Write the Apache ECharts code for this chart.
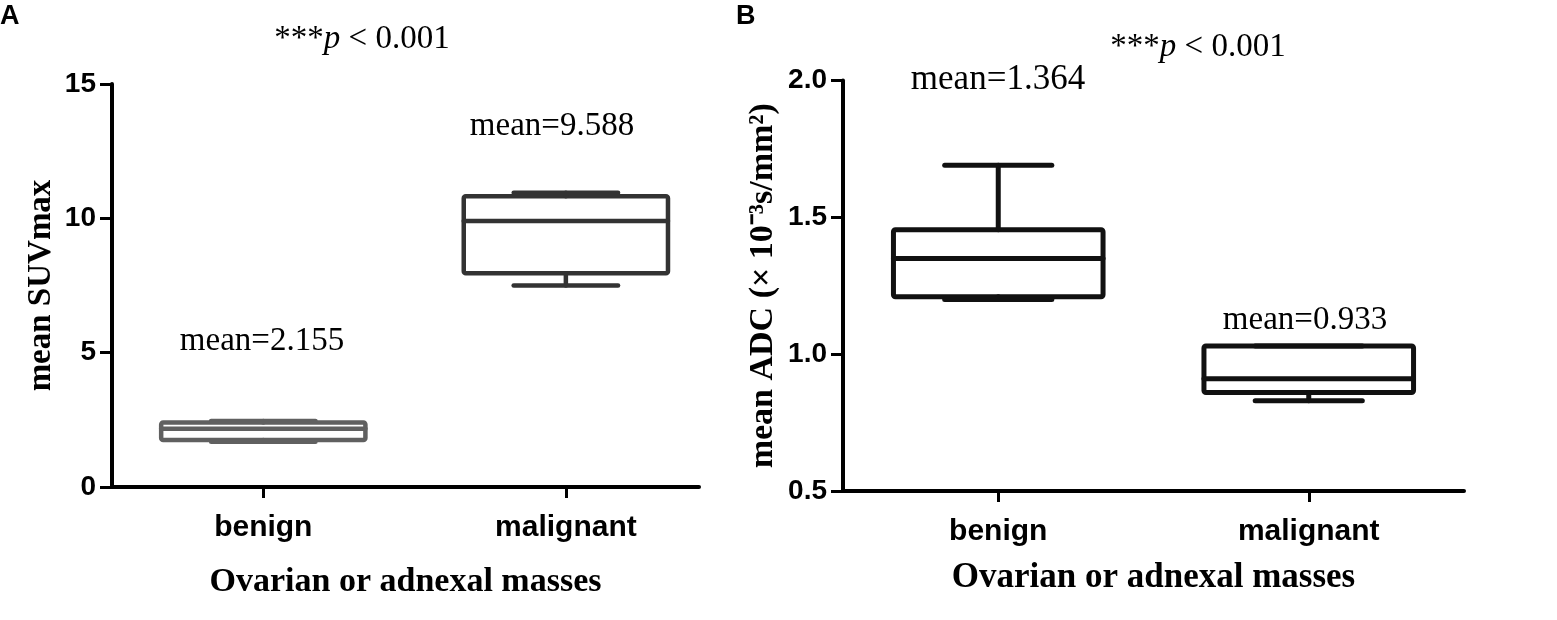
<!DOCTYPE html>
<html>
<head>
<meta charset="utf-8">
<script src="https://cdn.jsdelivr.net/npm/echarts@6/dist/echarts.min.js"></script>
<style>
html,body{margin:0;padding:0;background:#fff;}
#chart{width:1557px;height:620px;}
</style>
</head>
<body>
<div id="chart"></div>
<script>
// ---- data ----
const categories = ['benign', 'malignant'];
// [min, Q1, median, Q3, max]
const suvBenign = [1.68, 1.75, 2.17, 2.40, 2.46];
const suvMalignant = [7.50, 7.96, 9.90, 10.82, 10.95];
const adcBenign = [1.20, 1.21, 1.35, 1.455, 1.69];
const adcMalignant = [0.83, 0.86, 0.91, 1.03, 1.03];
const suvMeans = [2.155, 9.588];
const adcMeans = [1.364, 0.933];
const suvTicks = [0, 5, 10, 15];
const adcTicks = [0.5, 1.0, 1.5, 2.0];

const SERIF = '"Liberation Serif", "Times New Roman", serif';
const SANS = '"Liberation Sans", Arial, sans-serif';

function boxRenderer(color, lw) {
  return function (params, api) {
    const x = api.value(0);
    const v = [api.value(1), api.value(2), api.value(3), api.value(4), api.value(5)];
    const unit = api.size([1, 0])[0];
    const bw = unit * 0.675, cw = unit * 0.345;
    const p = v.map(val => api.coord([x, val]));
    const cx = p[2][0];
    const st = { stroke: color, lineWidth: lw, fill: null, lineCap: 'round', lineJoin: 'round' };
    return {
      type: 'group',
      children: [
        { type: 'rect', shape: { x: cx - bw / 2, y: p[3][1], width: bw, height: p[1][1] - p[3][1], r: 2 },
          style: { stroke: color, lineWidth: lw, fill: '#fff', lineJoin: 'round' } },
        { type: 'line', shape: { x1: cx - bw / 2, y1: p[2][1], x2: cx + bw / 2, y2: p[2][1] }, style: st },
        { type: 'line', shape: { x1: cx, y1: p[3][1], x2: cx, y2: p[4][1] }, style: st },
        { type: 'line', shape: { x1: cx, y1: p[1][1], x2: cx, y2: p[0][1] }, style: st },
        { type: 'line', shape: { x1: cx - cw / 2, y1: p[4][1], x2: cx + cw / 2, y2: p[4][1] }, style: st },
        { type: 'line', shape: { x1: cx - cw / 2, y1: p[0][1], x2: cx + cw / 2, y2: p[0][1] }, style: st }
      ]
    };
  };
}

function xAxisCfg(gridIndex, max, gap, nameSize) {
  return {
    gridIndex: gridIndex, type: 'value', min: -0.5, max: max,
    axisLine: { show: true, onZero: false, lineStyle: { color: '#000', width: 4 } },
    axisTick: { show: true, customValues: [0, 1], length: 11, lineStyle: { color: '#000', width: 3 } },
    axisLabel: { show: true, customValues: [0, 1], formatter: v => categories[Math.round(v)] || '',
      fontFamily: SANS, fontWeight: 'bold', fontSize: 30, color: '#000', margin: 26 },
    splitLine: { show: false },
    name: 'Ovarian or adnexal masses', nameLocation: 'middle', nameGap: gap,
    nameTextStyle: { fontFamily: SERIF, fontWeight: 'bold', fontSize: nameSize, color: '#000' }
  };
}
function yAxisCfg(gridIndex, min, max, interval, name, gap, nameSize, fmt) {
  return {
    gridIndex: gridIndex, type: 'value', min: min, max: max, interval: interval,
    axisLine: { show: true, onZero: false, lineStyle: { color: '#000', width: 4 } },
    axisTick: { show: true, length: 12, lineStyle: { color: '#000', width: 3 } },
    axisLabel: { show: true, fontFamily: SANS, fontWeight: 'bold', fontSize: 28, color: '#000', margin: 16, formatter: fmt },
    splitLine: { show: false },
    name: name, nameLocation: 'middle', nameRotate: 90, nameGap: gap,
    nameTextStyle: { fontFamily: SERIF, fontWeight: 'bold', fontSize: nameSize, color: '#000' }
  };
}

function txt(x, y, text, size) {
  return { type: 'text', x: x, y: y, style: { text: text, fontFamily: SERIF, fontSize: size, fill: '#000', align: 'center', verticalAlign: 'middle' } };
}
function ptxt(x, y) {
  return { type: 'text', x: x, y: y, style: {
    text: '{a|***}{i|p}{a| < 0.001}', align: 'center', verticalAlign: 'middle',
    rich: { a: { fontFamily: SERIF, fontSize: 33, fill: '#000', color: '#000' },
            i: { fontFamily: SERIF, fontSize: 33, fontStyle: 'italic', fill: '#000', color: '#000' } } } };
}

const chart = echarts.init(document.getElementById('chart'), null, { renderer: 'canvas' });
chart.setOption({
  animation: false,
  backgroundColor: '#fff',
  grid: [
    { left: 112, top: 84, width: 587, height: 403 },
    { left: 843, top: 80.5, width: 621, height: 410.5 }
  ],
  xAxis: [xAxisCfg(0, 1.44, 78, 34), xAxisCfg(1, 1.5, 69, 35)],
  yAxis: [
    yAxisCfg(0, 0, 15, 5, 'mean SUVmax', 54, 33, v => String(v)),
    yAxisCfg(1, 0.5, 2.0, 0.5, 'mean ADC (× 10⁻³s/mm²)', 63, 34, v => v.toFixed(1))
  ],
  series: [
    { type: 'custom', xAxisIndex: 0, yAxisIndex: 0, renderItem: boxRenderer('#606060', 4.5),
      encode: { x: 0, y: [1, 2, 3, 4, 5] }, data: [[0].concat(suvBenign)] },
    { type: 'custom', xAxisIndex: 0, yAxisIndex: 0, renderItem: boxRenderer('#333333', 4.5),
      encode: { x: 0, y: [1, 2, 3, 4, 5] }, data: [[1].concat(suvMalignant)] },
    { type: 'custom', xAxisIndex: 1, yAxisIndex: 1, renderItem: boxRenderer('#111111', 5),
      encode: { x: 0, y: [1, 2, 3, 4, 5] }, data: [[0].concat(adcBenign), [1].concat(adcMalignant)] }
  ],
  graphic: [
    { type: 'text', x: 0, y: 3, style: { text: 'A', fontFamily: SANS, fontWeight: 'bold', fontSize: 27, fill: '#000' } },
    { type: 'text', x: 736, y: 3, style: { text: 'B', fontFamily: SANS, fontWeight: 'bold', fontSize: 27, fill: '#000' } },
    ptxt(362, 39),
    ptxt(1198, 47),
    txt(262, 341, 'mean=' + suvMeans[0].toFixed(3), 33),
    txt(552, 126, 'mean=' + suvMeans[1].toFixed(3), 33),
    txt(998, 80, 'mean=' + adcMeans[0].toFixed(3), 35),
    txt(1305, 320, 'mean=' + adcMeans[1].toFixed(3), 33)
  ]
});
</script>
</body>
</html>
